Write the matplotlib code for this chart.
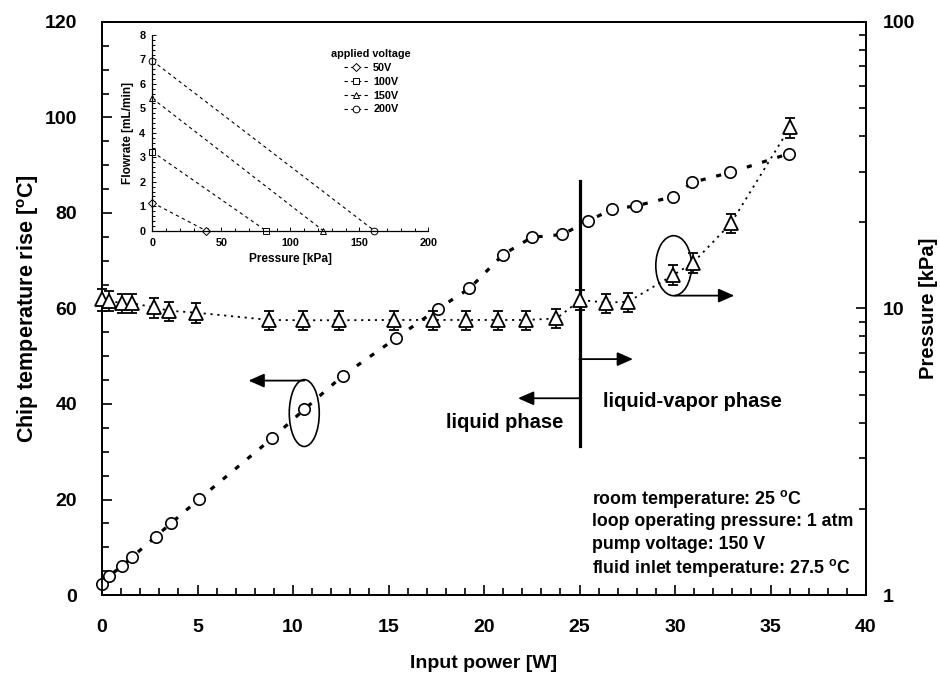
import matplotlib
matplotlib.use("Agg")
import matplotlib.pyplot as plt
from matplotlib.patches import Ellipse
from matplotlib.ticker import MultipleLocator, FixedLocator, FuncFormatter, NullFormatter, LogLocator

plt.rcParams['font.family'] = ['Liberation Sans', 'DejaVu Sans']
plt.rcParams['font.weight'] = 'bold'
plt.rcParams['mathtext.fontset'] = 'custom'
plt.rcParams['mathtext.rm'] = 'Liberation Sans:bold'
plt.rcParams['mathtext.it'] = 'Liberation Sans:bold'
plt.rcParams['mathtext.bf'] = 'Liberation Sans:bold'

# ---- main data: chip temperature rise (left axis) ----
power_T = [0, 0.37, 1.07, 1.59, 2.81, 3.6, 5.09, 8.9, 10.6, 12.6, 15.4, 17.58,
           19.24, 21.0, 22.5, 24.1, 25.45, 26.7, 27.98, 29.87, 30.9, 32.9, 35.95]
temp_rise = [2.4, 4.0, 6.1, 8.0, 12.2, 15.0, 20.1, 32.8, 38.9, 45.9, 53.8, 59.9,
             64.2, 71.3, 74.9, 75.5, 78.3, 80.8, 81.5, 83.4, 86.4, 88.5, 92.4]

# ---- main data: pressure (right axis, log) ----
power_P = [0, 0.37, 1.06, 1.59, 2.73, 3.51, 4.94, 8.76, 10.5, 12.43, 15.31, 17.32,
           19.07, 20.73, 22.22, 23.79, 25.05, 26.41, 27.55, 29.91, 30.95, 32.93, 36.02]
pressure = [10.77, 10.65, 10.42, 10.42, 10.10, 9.82, 9.67, 9.12, 9.1, 9.1, 9.12, 9.12,
            9.12, 9.12, 9.12, 9.23, 10.71, 10.48, 10.56, 13.09, 14.45, 19.83, 42.9]
pressure_err = [0.95, 0.85, 0.8, 0.8, 0.8, 0.75, 0.75, 0.7, 0.7, 0.7, 0.7, 0.7,
                0.7, 0.7, 0.7, 0.7, 0.85, 0.8, 0.8, 1.05, 1.15, 1.5, 3.4]

# ---- inset data: pump curves ----
inset_labels = ['50V', '100V', '150V', '200V']
inset_markers = ['D', 's', '^', 'o']
inset_pressure = [[0, 38.9], [0, 82.4], [0, 123.9], [0, 160.9]]
inset_flow = [[1.15, 0.0], [3.23, 0.0], [5.41, 0.0], [6.95, 0.0]]

W, H = 940, 684
fig = plt.figure(figsize=(W / 100, H / 100), dpi=100)

ax = fig.add_axes([102 / W, 1 - 595 / H, (866 - 102) / W, (595 - 22) / H])
ax2 = ax.twinx()

# temperature series
ax.plot(power_T, temp_rise, linestyle=(0, (1.6, 3.4)), color='k', lw=2.3,
        marker='o', ms=8.2, mfc='white', mec='k', mew=1.2, clip_on=False, zorder=3)

# pressure series
ax2.plot(power_P, pressure, linestyle=(0, (1.2, 2.6)), color='k', lw=1.3, zorder=2)
ax2.errorbar(power_P, pressure, yerr=pressure_err, fmt='^', ms=9.5, mfc='white',
             mec='k', mew=1.3, ecolor='k', elinewidth=1.2, capsize=3.5,
             capthick=1.3, clip_on=False, zorder=3)

ax.set_xlim(0, 40)
ax.set_ylim(0, 120)
ax2.set_yscale('log')
ax2.set_ylim(1, 100)

# ticks
ax.xaxis.set_major_locator(MultipleLocator(5))
ax.xaxis.set_minor_locator(MultipleLocator(1))
ax.yaxis.set_major_locator(MultipleLocator(20))
ax.yaxis.set_minor_locator(MultipleLocator(5))
ax.tick_params(axis='both', which='both', direction='in', top=False, right=False,
               width=1.2, labelsize=14)
ax.tick_params(axis='both', which='major', length=7)
ax.tick_params(axis='both', which='minor', length=5)
ax.tick_params(axis='x', pad=17)
ax.tick_params(axis='y', pad=18)

ax2.yaxis.set_major_locator(FixedLocator([1, 10, 100]))
ax2.yaxis.set_minor_locator(LogLocator(base=10, subs=range(2, 10)))
ax2.yaxis.set_major_formatter(FuncFormatter(lambda v, p: f'{v:g}'))
ax2.yaxis.set_minor_formatter(NullFormatter())
ax2.tick_params(axis='y', which='both', direction='in', width=1.2, labelsize=14, pad=12)
ax2.tick_params(axis='y', which='major', length=7)
ax2.tick_params(axis='y', which='minor', length=5)

for a in (ax, ax2):
    for s in a.spines.values():
        s.set_linewidth(1.3)

ax.set_xlabel('Input power [W]', fontsize=14, fontweight='bold')
ax.xaxis.set_label_coords(0.5, -0.105)
ax.set_ylabel(r'Chip temperature rise [$^{\rm o}$C]', fontsize=15.5, fontweight='bold')
ax.yaxis.set_label_coords(-0.08, 0.5)
ax2.set_ylabel('Pressure [kPa]', fontsize=14.5, fontweight='bold', rotation=90)
ax2.yaxis.set_label_coords(1.07, 0.5)

# ---- annotations ----
boundary_x = 25.0
ax.plot([boundary_x, boundary_x], [31.1, 86.6], color='k', lw=2.3, zorder=4)
arrow_style = dict(arrowstyle='-|>,head_length=0.95,head_width=0.42', color='k',
                   lw=1.3, mutation_scale=10, shrinkA=0, shrinkB=0)
ax.annotate('', xy=(27.8, 49.4), xytext=(boundary_x, 49.4), arrowprops=arrow_style)
ax.annotate('', xy=(21.78, 41.2), xytext=(boundary_x, 41.2), arrowprops=arrow_style)
ax.text(21.08, 36.1, 'liquid phase', fontsize=14.5, fontweight='bold',
        ha='center', va='center')
ax.text(30.9, 40.5, 'liquid-vapor phase', fontsize=14.5, fontweight='bold',
        ha='center', va='center')

ax.add_patch(Ellipse((10.59, 38.1), 1.57, 14.0, fill=False, ec='k', lw=1.2, zorder=4))
ax.annotate('', xy=(7.67, 44.9), xytext=(10.59, 44.9), arrowprops=arrow_style)
ax.add_patch(Ellipse((29.93, 68.96), 1.87, 12.57, fill=False, ec='k', lw=1.2, zorder=4))
ax.annotate('', xy=(33.1, 62.7), xytext=(30.0, 62.7), arrowprops=arrow_style)

conditions = ['room temperature: 25 $^{\\rm o}$C',
              'loop operating pressure: 1 atm',
              'pump voltage: 150 V',
              'fluid inlet temperature: 27.5 $^{\\rm o}$C']
for i, line in enumerate(conditions):
    ax.text(25.64, 20.2 - i * 4.82, line, fontsize=12.8, fontweight='bold',
            ha='left', va='center')

# ---- inset ----
axi = fig.add_axes([152.3 / W, 1 - 230.7 / H, (428.3 - 152.3) / W, (230.7 - 35) / H])
for lab, mk, px, fy in zip(inset_labels, inset_markers, inset_pressure, inset_flow):
    axi.plot(px, fy, linestyle=(0, (3, 3)), color='k', lw=0.8, marker=mk,
             ms=4.8 if mk != 'D' else 3.8, mfc='white', mec='k', mew=0.7,
             clip_on=False, label=lab)
axi.set_xlim(0, 200)
axi.set_ylim(0, 8)
axi.spines['top'].set_visible(False)
axi.spines['right'].set_visible(False)
for s in ('left', 'bottom'):
    axi.spines[s].set_linewidth(0.9)
axi.xaxis.set_major_locator(MultipleLocator(50))
axi.xaxis.set_minor_locator(MultipleLocator(10))
axi.yaxis.set_major_locator(MultipleLocator(1))
axi.yaxis.set_minor_locator(MultipleLocator(0.2))
axi.tick_params(which='both', direction='in', labelsize=7.8, width=0.7, pad=5)
axi.tick_params(which='major', length=3)
axi.tick_params(which='minor', length=2)
axi.set_xlabel('Pressure [kPa]', fontsize=8.6, fontweight='bold', labelpad=4)
axi.set_ylabel('Flowrate [mL/min]', fontsize=8.6, fontweight='bold', labelpad=4)
axi.patch.set_alpha(0)
leg = axi.legend(title='applied voltage', loc='upper left',
                 bbox_to_anchor=(327 / W, 1 - 45 / H), bbox_transform=fig.transFigure,
                 frameon=False, fontsize=7.8, title_fontsize=7.8, handlelength=2.2,
                 labelspacing=0.35, handletextpad=0.5, borderaxespad=0)
leg.get_title().set_fontweight('bold')

fig.savefig('out.png', dpi=100)
